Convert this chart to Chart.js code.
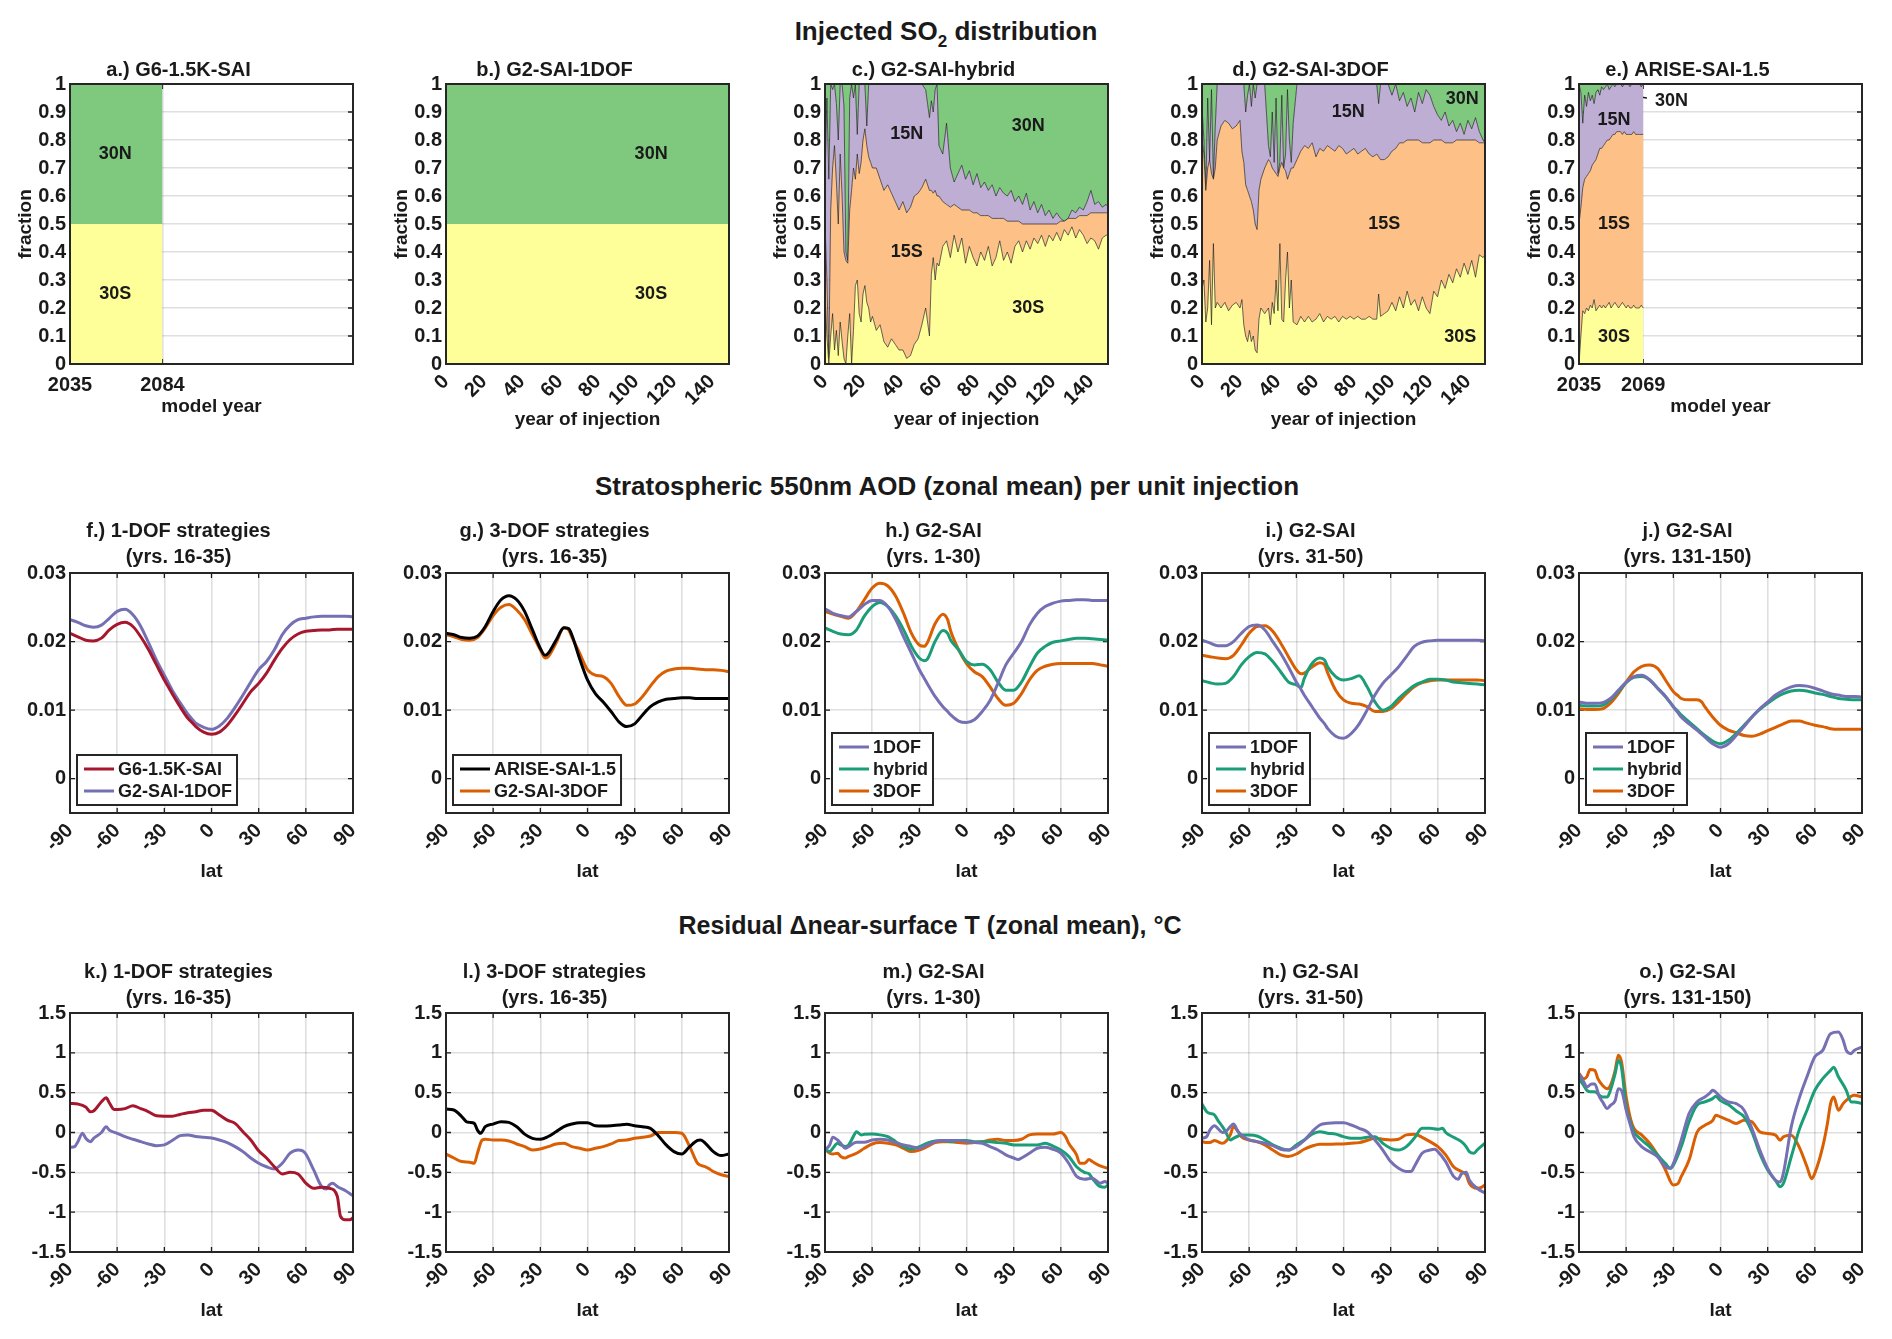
<!DOCTYPE html>
<html lang="en">
<head>
<meta charset="UTF-8">
<title>Injected SO2 distribution, AOD and temperature residuals</title>
<script src="https://cdn.jsdelivr.net/npm/chart.js"></script>
<style>
  body { margin: 0; background: #fff; width: 1892px; height: 1339px; position: relative; overflow: hidden;
         font-family: "Liberation Sans", Arial, Helvetica, sans-serif; color: #1a1a1a; }
  .hdr { position: absolute; font-weight: bold; font-size: 26px; transform: translate(-50%, -50%); white-space: nowrap; }
  .hdr sub { font-size: 17px; }
  .panel { position: absolute; }
</style>
</head>
<body>
<div class="hdr" style="left:946px; top:34px">Injected SO<sub>2</sub> distribution</div>
<div class="hdr" style="left:947px; top:486px">Stratospheric 550nm AOD (zonal mean) per unit injection</div>
<div class="hdr" style="left:930px; top:925px; font-size:25px">Residual &Delta;near-surface T (zonal mean), &deg;C</div>
<script>
// ---------- shared ticks ----------
const fracTicks = [0, 0.1, 0.2, 0.3, 0.4, 0.5, 0.6, 0.7, 0.8, 0.9, 1];
const fracTickLabels = ['0', '0.1', '0.2', '0.3', '0.4', '0.5', '0.6', '0.7', '0.8', '0.9', '1'];
const injTicks = [0, 20, 40, 60, 80, 100, 120, 140];
const latTicks = [-90, -60, -30, 0, 30, 60, 90];
const aodTicks = [0, 0.01, 0.02, 0.03];
const aodTickLabels = ['0', '0.01', '0.02', '0.03'];
const tTicks = [-1.5, -1, -0.5, 0, 0.5, 1, 1.5];
const tTickLabels = ['-1.5', '-1', '-0.5', '0', '0.5', '1', '1.5'];

// ---------- row 1: injected SO2 fraction, cumulative from the 30S layer up ----------
const g6Years = [2035, 2084];
const g6Cum30S = [0.5, 0.5];

const oneDofYears = [0, 149];
const oneDofCum30S = [0.5, 0.5];

const hybridYears = [0,1,2,3,4,5,6,7,8,9,10,11,12,13,14,15,16,17,18,19,20,21,22,23,24,25,
  27,29,31,33,35,37,39,41,43,45,47,49,51,53,55,56,57,58,59,
  60,62,64,66,68,70,72,74,76,78,80,82,84,86,88,90,92,94,96,98,100,102,104,106,108,110,
  112,114,116,118,120,122,124,126,128,130,132,134,136,138,140,142,144,146,148,149];
const hybridCum30S = [0.25,0.10,0.00,0.10,0.18,0.05,0.12,0.03,0.15,0.08,0.02,0.00,0.10,0.18,0.00,0.12,0.28,0.30,0.18,0.15,0.25,0.28,0.22,0.20,0.15,0.17,
  0.12,0.14,0.08,0.06,0.09,0.07,0.05,0.05,0.02,0.03,0.07,0.09,0.14,0.20,0.10,0.32,0.38,0.30,0.36,
  0.35,0.42,0.44,0.38,0.46,0.40,0.45,0.36,0.42,0.38,0.35,0.40,0.37,0.42,0.35,0.38,0.44,0.37,0.40,0.36,0.42,0.44,0.40,0.44,0.41,0.45,
  0.43,0.46,0.42,0.46,0.44,0.47,0.44,0.48,0.46,0.49,0.45,0.48,0.46,0.43,0.45,0.44,0.41,0.45,0.46,0.46];
const hybridCum15S = [0.50,0.30,0.02,0.55,0.70,0.78,0.65,0.50,0.75,0.60,0.40,0.37,0.36,0.55,0.62,0.70,0.66,0.75,0.68,0.72,0.80,0.84,0.78,0.74,0.72,0.70,
  0.70,0.66,0.62,0.64,0.61,0.58,0.55,0.58,0.54,0.56,0.60,0.61,0.63,0.66,0.62,0.62,0.61,0.62,0.60,
  0.60,0.58,0.57,0.56,0.57,0.56,0.55,0.55,0.55,0.54,0.54,0.53,0.53,0.53,0.52,0.52,0.52,0.52,0.51,0.51,0.51,0.51,0.50,0.50,0.50,0.50,
  0.50,0.50,0.50,0.50,0.50,0.50,0.51,0.51,0.52,0.52,0.52,0.53,0.53,0.53,0.54,0.54,0.54,0.54,0.54,0.54];
const hybridCum15N = [0.65,0.95,0.66,1.00,0.98,1.00,0.93,0.80,1.00,1.00,0.92,0.40,0.37,0.95,1.00,0.95,1.00,0.82,1.00,1.00,1.00,1.00,0.85,1.00,1.00,1.00,
  1.00,1.00,1.00,1.00,1.00,1.00,1.00,1.00,1.00,1.00,1.00,1.00,1.00,0.98,0.88,0.94,0.90,0.98,1.00,
  0.78,0.75,0.86,0.70,0.65,0.68,0.71,0.66,0.69,0.64,0.68,0.63,0.65,0.62,0.64,0.60,0.63,0.61,0.60,0.62,0.58,0.60,0.57,0.61,0.55,0.58,
  0.54,0.57,0.53,0.55,0.52,0.54,0.52,0.51,0.52,0.55,0.54,0.56,0.55,0.58,0.62,0.57,0.58,0.56,0.57,0.56];

const threeDofYears = [0,1,2,3,4,5,6,7,8,10,12,14,16,18,20,21,22,23,24,25,26,27,28,29,30,31,33,
  35,36,37,38,39,40,41,42,43,44,45,46,47,48,
  50,52,54,56,58,60,62,64,66,68,70,72,74,76,78,80,82,84,86,88,90,92,93,
  94,96,98,100,102,104,106,108,110,112,114,116,118,120,122,124,126,128,130,132,134,136,138,140,142,144,146,148,149];
const threeDofCum30S = [0.27,0.30,0.15,0.20,0.37,0.14,0.43,0.20,0.22,0.20,0.22,0.19,0.21,0.22,0.20,
  0.23,0.14,0.10,0.08,0.12,0.08,0.10,0.05,0.04,0.16,0.20,0.18,
  0.20,0.14,0.22,0.18,0.30,0.19,0.43,0.16,0.15,0.30,0.40,0.20,0.30,0.15,
  0.14,0.17,0.15,0.17,0.15,0.16,0.18,0.15,0.17,0.16,0.17,0.15,0.17,0.16,0.17,0.16,0.17,0.16,0.16,0.17,0.16,0.16,0.25,
  0.17,0.18,0.19,0.22,0.19,0.24,0.20,0.26,0.21,0.23,0.19,0.24,0.20,0.18,0.26,0.24,0.30,0.27,0.32,0.29,0.34,0.31,0.36,0.32,0.37,0.31,0.39,0.38,0.39];
const threeDofCum15S = [0.80,0.75,0.62,0.70,0.73,0.68,0.66,0.70,0.80,0.85,0.87,0.86,0.84,0.85,0.87,
  0.76,0.72,0.64,0.62,0.60,0.58,0.55,0.50,0.48,0.62,0.66,0.70,
  0.73,0.72,0.70,0.69,0.68,0.67,0.70,0.72,0.70,0.69,0.66,0.68,0.70,0.70,
  0.73,0.76,0.78,0.77,0.79,0.74,0.77,0.76,0.78,0.77,0.76,0.78,0.77,0.75,0.76,0.77,0.75,0.76,0.77,0.75,0.74,0.75,0.74,
  0.73,0.73,0.74,0.76,0.77,0.79,0.79,0.80,0.80,0.80,0.80,0.79,0.79,0.79,0.80,0.80,0.80,0.79,0.79,0.79,0.80,0.80,0.80,0.80,0.80,0.80,0.79,0.79,0.79];
const threeDofCum15N = [0.92,0.80,0.62,0.95,0.73,0.98,0.66,0.85,1.00,1.00,1.00,1.00,1.00,1.00,1.00,
  1.00,1.00,0.90,0.96,1.00,0.92,1.00,0.95,1.00,1.00,1.00,1.00,
  0.78,0.74,0.90,0.72,0.95,0.68,0.72,0.96,0.70,0.75,0.98,0.80,0.72,0.86,
  1.00,1.00,1.00,1.00,1.00,1.00,1.00,1.00,1.00,1.00,1.00,1.00,1.00,1.00,1.00,1.00,1.00,1.00,1.00,1.00,1.00,1.00,0.93,
  1.00,1.00,1.00,0.96,1.00,0.94,0.97,0.92,0.95,0.90,0.97,0.93,0.98,0.96,0.92,0.89,0.87,0.90,0.85,0.87,0.83,0.86,0.82,0.87,0.84,0.88,0.83,0.80,0.79];

const ariseYears = [2035,2036,2037,2038,2039,2040,2041,2042,2043,2044,2045,2046,2047,2048,2049,2050,2051,2052,
  2053,2054,2055,2056,2057,2058,2059,2060,2061,2062,2063,2064,2065,2066,2067,2068,2069];
const ariseCum30S = [0.00,0.10,0.19,0.18,0.20,0.19,0.21,0.20,0.23,0.19,0.20,0.21,0.20,0.21,0.20,0.21,0.22,0.20,
  0.21,0.22,0.21,0.20,0.21,0.22,0.21,0.20,0.21,0.20,0.20,0.21,0.20,0.20,0.20,0.21,0.20];
const ariseCum15S = [0.50,0.56,0.63,0.66,0.67,0.68,0.69,0.71,0.72,0.73,0.75,0.77,0.77,0.78,0.79,0.80,0.80,0.81,
  0.82,0.82,0.83,0.83,0.83,0.82,0.83,0.82,0.82,0.82,0.82,0.83,0.82,0.82,0.82,0.82,0.82];
const ariseCum15N = [1.00,0.97,0.86,0.96,0.92,0.97,0.94,0.96,0.93,0.97,0.98,0.96,0.99,0.98,0.99,1.00,0.98,0.99,
  1.00,0.99,1.00,1.00,1.00,0.99,1.00,1.00,1.00,0.99,1.00,1.00,1.00,1.00,1.00,0.99,1.00];
const ariseLeaderYears = [2040.5, 2071];
const ariseLeaderFrac = [0.98, 0.95];

// ---------- row 2: stratospheric AOD per unit injection ----------
const latAod = [-90,-85,-80,-75,-70,-65,-60,-55,-50,-45,-40,-35,-30,-27,-25,-20,-15,-12,-10,-5,0,
  5,10,15,20,25,30,35,40,45,50,55,60,65,70,75,80,85,90];
const aodF_G6 = [0.0212,0.0207,0.0202,0.0201,0.0205,0.0217,0.0225,0.0228,0.0222,0.0207,0.0188,0.0166,0.0144,0.0132,0.0124,0.0105,0.0088,0.0081,0.0076,0.0068,0.0065,
  0.0068,0.0078,0.0093,0.0110,0.0127,0.0139,0.0154,0.0173,0.0190,0.0203,0.0211,0.0215,0.0216,0.0217,0.0217,0.0218,0.0218,0.0218];
const aodF_1DOF = [0.0232,0.0228,0.0223,0.0221,0.0224,0.0234,0.0244,0.0247,0.0239,0.0222,0.0198,0.0173,0.0151,0.0138,0.0129,0.0111,0.0094,0.0086,0.0081,0.0075,0.0072,
  0.0077,0.0088,0.0104,0.0122,0.0141,0.0159,0.0171,0.0188,0.0210,0.0224,0.0232,0.0234,0.0236,0.0237,0.0237,0.0237,0.0237,0.0236];
const aodG_ARISE = [0.0212,0.0210,0.0206,0.0205,0.0208,0.0222,0.0244,0.0261,0.0267,0.0261,0.0244,0.0217,0.0190,0.0180,0.0183,0.0202,0.0220,0.0219,0.0210,0.0175,0.0144,
  0.0124,0.0112,0.0098,0.0083,0.0076,0.0080,0.0093,0.0105,0.0112,0.0116,0.0117,0.0118,0.0118,0.0117,0.0117,0.0117,0.0117,0.0117];
const aodG_3DOF = [0.0210,0.0207,0.0203,0.0202,0.0206,0.0220,0.0238,0.0250,0.0254,0.0246,0.0232,0.0210,0.0188,0.0176,0.0178,0.0198,0.0220,0.0217,0.0207,0.0183,0.0159,
  0.0151,0.0149,0.0139,0.0120,0.0107,0.0109,0.0120,0.0135,0.0149,0.0157,0.0160,0.0161,0.0161,0.0160,0.0159,0.0159,0.0158,0.0156];
const aodH_1DOF = [0.0248,0.0241,0.0238,0.0236,0.0244,0.0254,0.0260,0.0260,0.0251,0.0232,0.0207,0.0183,0.0159,0.0147,0.0139,0.0120,0.0105,0.0098,0.0093,0.0084,0.0082,
  0.0086,0.0098,0.0114,0.0139,0.0166,0.0183,0.0200,0.0224,0.0241,0.0251,0.0256,0.0259,0.0260,0.0261,0.0261,0.0260,0.0260,0.0260];
const aodH_hybrid = [0.0220,0.0215,0.0211,0.0210,0.0217,0.0237,0.0251,0.0257,0.0251,0.0237,0.0217,0.0193,0.0176,0.0172,0.0174,0.0200,0.0216,0.0212,0.0202,0.0188,0.0171,
  0.0166,0.0167,0.0159,0.0141,0.0129,0.0129,0.0141,0.0163,0.0183,0.0193,0.0199,0.0201,0.0203,0.0205,0.0205,0.0204,0.0203,0.0202];
const aodH_3DOF = [0.0244,0.0240,0.0237,0.0234,0.0244,0.0261,0.0278,0.0285,0.0281,0.0266,0.0241,0.0212,0.0195,0.0193,0.0198,0.0226,0.0240,0.0232,0.0215,0.0188,0.0168,
  0.0156,0.0149,0.0134,0.0117,0.0107,0.0110,0.0124,0.0144,0.0158,0.0164,0.0167,0.0168,0.0168,0.0168,0.0168,0.0168,0.0166,0.0164];
const aodI_1DOF = [0.0202,0.0198,0.0194,0.0194,0.0200,0.0212,0.0222,0.0224,0.0217,0.0200,0.0183,0.0163,0.0141,0.0130,0.0122,0.0105,0.0088,0.0080,0.0073,0.0062,0.0059,
  0.0066,0.0080,0.0100,0.0122,0.0139,0.0151,0.0163,0.0178,0.0193,0.0199,0.0201,0.0202,0.0202,0.0202,0.0202,0.0202,0.0202,0.0201];
const aodI_hybrid = [0.0143,0.0140,0.0138,0.0139,0.0149,0.0166,0.0178,0.0184,0.0182,0.0171,0.0156,0.0141,0.0137,0.0133,0.0146,0.0168,0.0176,0.0173,0.0163,0.0149,0.0144,
  0.0146,0.0150,0.0134,0.0112,0.0100,0.0105,0.0117,0.0127,0.0136,0.0141,0.0145,0.0145,0.0144,0.0141,0.0140,0.0139,0.0138,0.0137];
const aodI_3DOF = [0.0180,0.0178,0.0176,0.0175,0.0180,0.0195,0.0212,0.0222,0.0223,0.0215,0.0198,0.0178,0.0159,0.0153,0.0154,0.0163,0.0169,0.0166,0.0154,0.0129,0.0115,
  0.0110,0.0109,0.0105,0.0098,0.0098,0.0102,0.0112,0.0124,0.0134,0.0140,0.0143,0.0144,0.0144,0.0144,0.0144,0.0144,0.0144,0.0143];
const aodJ_1DOF = [0.0112,0.0110,0.0110,0.0111,0.0117,0.0129,0.0141,0.0149,0.0151,0.0144,0.0132,0.0120,0.0105,0.0096,0.0090,0.0080,0.0071,0.0065,0.0061,0.0051,0.0046,
  0.0051,0.0063,0.0076,0.0090,0.0102,0.0112,0.0122,0.0129,0.0134,0.0136,0.0135,0.0132,0.0128,0.0124,0.0122,0.0120,0.0120,0.0119];
const aodJ_hybrid = [0.0107,0.0106,0.0106,0.0107,0.0115,0.0127,0.0140,0.0148,0.0149,0.0144,0.0132,0.0120,0.0105,0.0098,0.0093,0.0083,0.0073,0.0067,0.0063,0.0055,0.0051,
  0.0056,0.0066,0.0078,0.0090,0.0101,0.0110,0.0118,0.0124,0.0128,0.0129,0.0128,0.0125,0.0123,0.0120,0.0117,0.0116,0.0115,0.0115];
const aodJ_3DOF = [0.0102,0.0101,0.0101,0.0102,0.0110,0.0124,0.0141,0.0156,0.0164,0.0166,0.0161,0.0144,0.0127,0.0121,0.0117,0.0115,0.0115,0.0112,0.0105,0.0090,0.0078,
  0.0071,0.0067,0.0063,0.0062,0.0065,0.0070,0.0075,0.0080,0.0084,0.0084,0.0081,0.0078,0.0076,0.0073,0.0072,0.0072,0.0072,0.0072];

// ---------- row 3: residual near-surface temperature, [lat, degC] ----------
const tK_G6 = [[-90,0.365],[-85,0.357],[-80,0.32],[-77,0.26],[-75,0.27],[-70,0.386],[-67,0.436],[-65,0.373],[-62,0.29],[-60,0.29],[-55,0.30],[-50,0.336],[-45,0.30],[-40,0.26],[-35,0.21],[-30,0.205],[-25,0.205],[-20,0.227],[-15,0.248],[-10,0.26],[-5,0.28],[0,0.28],[5,0.22],[10,0.156],[15,0.115],[20,0.01],[25,-0.094],[30,-0.23],[35,-0.32],[40,-0.43],[45,-0.52],[50,-0.50],[55,-0.52],[60,-0.636],[65,-0.70],[70,-0.686],[75,-0.70],[80,-0.80],[82,-1.05],[85,-1.095],[88,-1.095],[90,-1.07]];
const tK_1DOF = [[-90,-0.186],[-87,-0.177],[-85,-0.115],[-82,-0.01],[-80,-0.073],[-77,-0.115],[-75,-0.073],[-70,0.0],[-67,0.073],[-65,0.03],[-60,-0.01],[-55,-0.052],[-50,-0.085],[-45,-0.115],[-40,-0.144],[-35,-0.165],[-30,-0.156],[-25,-0.10],[-20,-0.04],[-15,-0.03],[-10,-0.05],[-5,-0.06],[0,-0.07],[5,-0.094],[10,-0.127],[15,-0.177],[20,-0.24],[25,-0.32],[30,-0.386],[35,-0.43],[40,-0.457],[45,-0.386],[50,-0.26],[55,-0.22],[58,-0.23],[60,-0.27],[65,-0.47],[70,-0.678],[73,-0.71],[75,-0.657],[77,-0.636],[80,-0.678],[85,-0.728],[90,-0.795]];
const tL_ARISE = [[-90,0.294],[-85,0.282],[-80,0.20],[-77,0.136],[-75,0.127],[-72,0.115],[-70,0.03],[-68,-0.01],[-65,0.073],[-60,0.106],[-55,0.136],[-50,0.127],[-45,0.073],[-40,-0.02],[-35,-0.073],[-30,-0.085],[-25,-0.05],[-20,0.01],[-15,0.073],[-10,0.106],[-5,0.123],[0,0.123],[5,0.085],[10,0.081],[15,0.085],[20,0.094],[25,0.102],[30,0.085],[35,0.073],[40,0.052],[45,-0.04],[50,-0.156],[55,-0.24],[60,-0.27],[65,-0.177],[70,-0.10],[72,-0.094],[75,-0.135],[80,-0.24],[85,-0.29],[90,-0.27]];
const tL_3DOF = [[-90,-0.27],[-85,-0.32],[-80,-0.365],[-75,-0.373],[-72,-0.386],[-70,-0.26],[-67,-0.094],[-65,-0.085],[-60,-0.094],[-55,-0.094],[-50,-0.106],[-45,-0.144],[-40,-0.177],[-35,-0.22],[-30,-0.206],[-25,-0.177],[-20,-0.144],[-15,-0.135],[-10,-0.177],[-5,-0.198],[0,-0.22],[5,-0.198],[10,-0.177],[15,-0.144],[20,-0.10],[25,-0.094],[30,-0.073],[35,-0.06],[40,-0.044],[45,0.0],[50,0.0],[55,0.0],[60,-0.01],[65,-0.177],[70,-0.386],[75,-0.43],[77,-0.45],[80,-0.49],[85,-0.53],[90,-0.553]];
const tM_1DOF = [[-90,-0.22],[-87,-0.156],[-85,-0.06],[-82,-0.094],[-80,-0.135],[-77,-0.198],[-75,-0.177],[-70,-0.123],[-65,-0.123],[-60,-0.094],[-55,-0.085],[-50,-0.094],[-45,-0.127],[-40,-0.156],[-35,-0.177],[-30,-0.198],[-25,-0.156],[-20,-0.115],[-15,-0.10],[-10,-0.10],[-5,-0.10],[0,-0.115],[5,-0.127],[10,-0.135],[15,-0.177],[20,-0.22],[25,-0.28],[30,-0.32],[33,-0.34],[35,-0.32],[40,-0.26],[45,-0.198],[50,-0.186],[55,-0.21],[60,-0.26],[65,-0.386],[70,-0.55],[75,-0.586],[80,-0.574],[85,-0.636],[88,-0.615],[90,-0.636]];
const tM_hybrid = [[-90,-0.21],[-87,-0.24],[-85,-0.198],[-82,-0.135],[-80,-0.156],[-77,-0.177],[-75,-0.156],[-72,-0.052],[-70,0.01],[-67,-0.03],[-65,-0.023],[-60,-0.02],[-55,-0.03],[-50,-0.052],[-45,-0.115],[-40,-0.177],[-35,-0.21],[-30,-0.177],[-25,-0.135],[-20,-0.106],[-15,-0.10],[-10,-0.115],[-5,-0.10],[0,-0.10],[5,-0.115],[10,-0.115],[15,-0.115],[20,-0.127],[25,-0.135],[30,-0.156],[35,-0.156],[40,-0.156],[45,-0.156],[50,-0.135],[55,-0.17],[60,-0.22],[65,-0.30],[70,-0.43],[75,-0.50],[78,-0.52],[80,-0.574],[85,-0.678],[88,-0.686],[90,-0.657]];
const tM_3DOF = [[-90,-0.21],[-87,-0.26],[-85,-0.27],[-82,-0.26],[-80,-0.30],[-77,-0.32],[-75,-0.30],[-70,-0.26],[-65,-0.198],[-60,-0.144],[-55,-0.127],[-50,-0.135],[-45,-0.156],[-40,-0.198],[-35,-0.24],[-30,-0.22],[-25,-0.177],[-20,-0.127],[-15,-0.115],[-10,-0.115],[-5,-0.127],[0,-0.135],[5,-0.127],[10,-0.115],[15,-0.094],[20,-0.085],[25,-0.10],[30,-0.10],[35,-0.085],[40,-0.03],[45,-0.02],[50,-0.02],[55,-0.02],[60,0.0],[63,-0.052],[65,-0.135],[70,-0.28],[72,-0.386],[75,-0.386],[78,-0.34],[80,-0.365],[85,-0.42],[90,-0.45]];
const tN_1DOF = [[-90,-0.073],[-87,-0.052],[-85,0.03],[-82,0.085],[-80,0.052],[-77,0.0],[-75,0.01],[-72,0.073],[-70,0.106],[-67,0.01],[-65,-0.03],[-60,-0.094],[-55,-0.115],[-50,-0.135],[-45,-0.165],[-40,-0.21],[-35,-0.22],[-30,-0.177],[-25,-0.10],[-20,0.01],[-15,0.094],[-10,0.115],[-5,0.123],[0,0.123],[5,0.094],[10,0.052],[15,0.01],[20,-0.094],[25,-0.22],[30,-0.365],[35,-0.45],[40,-0.49],[43,-0.49],[45,-0.43],[50,-0.26],[55,-0.22],[58,-0.21],[60,-0.24],[65,-0.365],[70,-0.55],[73,-0.586],[75,-0.52],[78,-0.50],[80,-0.595],[85,-0.70],[90,-0.76]];
const tN_hybrid = [[-90,0.357],[-87,0.26],[-85,0.24],[-82,0.22],[-80,0.156],[-77,0.073],[-75,0.01],[-72,-0.094],[-70,-0.073],[-67,-0.044],[-65,-0.03],[-60,-0.03],[-55,-0.044],[-50,-0.094],[-45,-0.156],[-40,-0.198],[-35,-0.22],[-30,-0.156],[-25,-0.094],[-20,-0.02],[-15,0.01],[-10,-0.01],[-5,-0.02],[0,-0.052],[5,-0.073],[10,-0.073],[15,-0.06],[20,-0.052],[25,-0.135],[30,-0.198],[35,-0.22],[40,-0.177],[45,-0.073],[50,0.052],[55,0.052],[60,0.04],[63,0.052],[65,0.0],[70,-0.06],[75,-0.115],[78,-0.177],[80,-0.24],[83,-0.26],[85,-0.22],[90,-0.135]];
const tN_3DOF = [[-90,-0.115],[-87,-0.127],[-85,-0.127],[-82,-0.10],[-80,-0.115],[-77,-0.135],[-75,-0.115],[-72,-0.03],[-70,0.073],[-67,0.01],[-65,-0.052],[-60,-0.094],[-55,-0.115],[-50,-0.156],[-45,-0.22],[-40,-0.28],[-35,-0.30],[-30,-0.27],[-25,-0.21],[-20,-0.17],[-15,-0.148],[-10,-0.148],[-5,-0.144],[0,-0.144],[5,-0.135],[10,-0.127],[15,-0.10],[20,-0.073],[25,-0.085],[30,-0.094],[35,-0.085],[40,-0.03],[45,-0.023],[50,-0.06],[55,-0.115],[60,-0.177],[65,-0.28],[70,-0.43],[75,-0.49],[78,-0.53],[80,-0.636],[85,-0.70],[88,-0.686],[90,-0.657]];
const tO_1DOF = [[-90,0.74],[-87,0.636],[-85,0.57],[-82,0.61],[-80,0.61],[-77,0.446],[-75,0.384],[-72,0.30],[-70,0.34],[-67,0.40],[-65,0.55],[-63,0.53],[-60,0.28],[-57,0.07],[-55,-0.054],[-50,-0.18],[-45,-0.242],[-40,-0.305],[-35,-0.43],[-32,-0.45],[-30,-0.39],[-25,-0.096],[-20,0.238],[-15,0.384],[-10,0.446],[-7,0.49],[-5,0.53],[0,0.446],[5,0.384],[10,0.363],[15,0.28],[20,0.05],[25,-0.22],[30,-0.45],[35,-0.60],[38,-0.62],[40,-0.51],[45,0.07],[50,0.425],[55,0.70],[60,0.95],[65,1.03],[70,1.24],[75,1.26],[78,1.16],[80,1.03],[83,0.99],[85,1.03],[90,1.07]];
const tO_hybrid = [[-90,0.676],[-87,0.59],[-85,0.53],[-82,0.51],[-80,0.51],[-77,0.467],[-75,0.446],[-72,0.446],[-70,0.53],[-67,0.74],[-65,0.905],[-63,0.82],[-60,0.32],[-57,0.113],[-55,0.008],[-50,-0.096],[-45,-0.18],[-40,-0.284],[-35,-0.39],[-32,-0.45],[-30,-0.41],[-25,-0.18],[-20,0.134],[-15,0.342],[-10,0.384],[-5,0.425],[-3,0.455],[0,0.40],[5,0.35],[10,0.27],[15,0.196],[20,0.008],[25,-0.263],[30,-0.47],[35,-0.60],[38,-0.68],[40,-0.64],[45,-0.305],[50,0.03],[55,0.28],[60,0.53],[65,0.676],[70,0.78],[72,0.82],[75,0.70],[80,0.53],[83,0.384],[85,0.384],[90,0.363]];
const tO_3DOF = [[-90,0.74],[-87,0.676],[-85,0.70],[-83,0.79],[-80,0.78],[-78,0.676],[-75,0.59],[-72,0.55],[-70,0.59],[-67,0.78],[-65,0.97],[-63,0.89],[-60,0.446],[-57,0.155],[-55,0.05],[-50,-0.033],[-45,-0.138],[-40,-0.284],[-35,-0.47],[-30,-0.66],[-27,-0.64],[-25,-0.555],[-20,-0.346],[-15,0.0],[-10,0.09],[-5,0.15],[-3,0.217],[0,0.196],[5,0.155],[10,0.113],[15,0.155],[20,0.134],[25,0.008],[30,-0.013],[35,-0.033],[38,-0.096],[40,-0.054],[45,-0.033],[50,-0.18],[55,-0.43],[58,-0.58],[60,-0.51],[65,-0.18],[68,0.113],[70,0.363],[72,0.446],[75,0.28],[78,0.363],[80,0.404],[85,0.467],[90,0.446]];

// ---------- look ----------
const FONT = '"Liberation Sans", Arial, Helvetica, sans-serif';
const INK = '#1a1a1a';
const GRID = 'rgba(38,38,38,0.15)';
const YEL = '#ffff99', ORA = '#fdc086', PUR = '#beaed4', GRN = '#7fc97f';
const C_PURPLE = '#7570b3', C_GREEN = '#1b9e77', C_ORANGE = '#d95f02', C_RED = '#a6172d', C_BLACK = '#000000';
const EDGE = 'rgba(30,30,30,0.85)';
const TICK_SIZE = 20, LABEL_SIZE = 19;

Chart.defaults.font.family = FONT;
Chart.defaults.color = INK;

// panel grid (page pixels of each plot box)
const COL_LEFT = [70, 446, 825, 1202, 1579];
const PLOT_W = 283;
const ROW_TOP = [84, 573, 1013];
const ROW_H = [280, 240, 239];
const Y_AXIS_W = 66, X_AXIS_H = 72, PAD_R = 14;
const TITLE_SIZE = 20, TITLE_LH = 1.3;
const TITLE_PAD_B = [1, 3, 2];

const xy = (xs, ys) => xs.map((x, i) => ({x: x, y: ys[i]}));
const pairs = arr => arr.map(p => ({x: p[0], y: p[1]}));

// inner tick marks sit under the data, the axes box on top
const innerTicks = {
  id: 'innerTicks',
  beforeDatasetsDraw(chart) {
    const {ctx, chartArea: a, scales: {x, y}} = chart;
    ctx.save();
    ctx.strokeStyle = INK;
    ctx.lineWidth = 1.3;
    ctx.beginPath();
    x.ticks.forEach(t => {
      const px = x.getPixelForValue(t.value);
      ctx.moveTo(px, a.bottom); ctx.lineTo(px, a.bottom - 5);
      ctx.moveTo(px, a.top); ctx.lineTo(px, a.top + 5);
    });
    y.ticks.forEach(t => {
      const py = y.getPixelForValue(t.value);
      ctx.moveTo(a.left, py); ctx.lineTo(a.left + 5, py);
      ctx.moveTo(a.right, py); ctx.lineTo(a.right - 5, py);
    });
    ctx.stroke();
    ctx.restore();
  }
};
const axesBox = {
  id: 'axesBox',
  afterDatasetsDraw(chart) {
    const {ctx, chartArea: a} = chart;
    ctx.save();
    ctx.strokeStyle = '#262626';
    ctx.lineWidth = 2;
    ctx.strokeRect(a.left, a.top, a.width, a.height);
    ctx.restore();
  }
};
// MATLAB-style boxed legend in the lower-left corner of the axes
const boxLegend = {
  id: 'boxLegend',
  afterDatasetsDraw(chart) {
    const items = chart.data.datasets.filter(d => d.label);
    if (!items.length) return;
    const {ctx, chartArea: a} = chart;
    ctx.save();
    ctx.font = 'bold 18px ' + FONT;
    const rowH = 22, lineLen = 30, gap = 4, padX = 7;
    const textW = Math.max(...items.map(d => ctx.measureText(d.label).width));
    const w = padX + lineLen + gap + textW + padX - 2;
    const h = items.length * rowH + 6;
    const x0 = a.left + 7, y0 = a.bottom - 8 - h;
    ctx.fillStyle = '#fff';
    ctx.fillRect(x0, y0, w, h);
    ctx.strokeStyle = '#262626';
    ctx.lineWidth = 2;
    ctx.strokeRect(x0, y0, w, h);
    items.forEach((d, i) => {
      const yy = y0 + 3 + rowH * (i + 0.5);
      ctx.strokeStyle = d.borderColor;
      ctx.lineWidth = 3;
      ctx.beginPath();
      ctx.moveTo(x0 + padX, yy);
      ctx.lineTo(x0 + padX + lineLen, yy);
      ctx.stroke();
      ctx.fillStyle = INK;
      ctx.textBaseline = 'middle';
      ctx.textAlign = 'left';
      ctx.fillText(d.label, x0 + padX + lineLen + gap, yy + 1);
    });
    ctx.restore();
  }
};
// region names placed in data coordinates
function regionText(items) {
  return {
    id: 'regionText',
    afterDatasetsDraw(chart) {
      const {ctx, scales: {x, y}} = chart;
      ctx.save();
      ctx.font = 'bold 18px ' + FONT;
      ctx.fillStyle = INK;
      ctx.textAlign = 'center';
      ctx.textBaseline = 'middle';
      items.forEach(it => ctx.fillText(it[0], x.getPixelForValue(it[1]), y.getPixelForValue(it[2])));
      ctx.restore();
    }
  };
}

function makePanel(col, row, titleLines) {
  const titleH = titleLines * TITLE_SIZE * TITLE_LH + TITLE_PAD_B[row];
  const div = document.createElement('div');
  div.className = 'panel';
  div.style.left = (COL_LEFT[col] - Y_AXIS_W) + 'px';
  div.style.top = (ROW_TOP[row] - titleH) + 'px';
  div.style.width = (Y_AXIS_W + PLOT_W + PAD_R) + 'px';
  div.style.height = (titleH + ROW_H[row] + X_AXIS_H) + 'px';
  const canvas = document.createElement('canvas');
  div.appendChild(canvas);
  document.body.appendChild(div);
  return canvas;
}

function axis(o) {
  // o: {min, max, ticks, labels, rot, title, titlePad, isY}
  const s = {
    type: 'linear',
    min: o.min,
    max: o.max,
    afterBuildTicks: sc => { sc.ticks = o.ticks.map(v => ({value: v})); },
    ticks: {
      autoSkip: false,
      padding: o.isY ? 4 : (o.rot ? 6 : 9),
      font: {family: FONT, size: TICK_SIZE, weight: 'bold'},
      color: INK,
      callback: (v, i) => o.labels[i]
    },
    grid: {color: GRID, lineWidth: 1.6, drawTicks: false},
    border: {display: false},
    title: {
      display: !!o.title,
      text: o.title || '',
      color: INK,
      font: {family: FONT, size: LABEL_SIZE, weight: 'bold'},
      padding: o.isY ? {top: 10, bottom: 0} : {top: 0, bottom: o.titlePad || 0}
    }
  };
  if (o.isY) {
    s.afterFit = sc => { sc.width = Y_AXIS_W; sc.paddingTop = 0; sc.paddingBottom = 0; };
  } else {
    s.ticks.minRotation = o.rot;
    s.ticks.maxRotation = o.rot;
    s.afterFit = sc => { sc.height = X_AXIS_H; sc.paddingLeft = 0; sc.paddingRight = 0; };
  }
  return s;
}

function baseOptions(title, xScale, yScale) {
  return {
    responsive: true,
    maintainAspectRatio: false,
    animation: false,
    layout: {padding: {left: 0, right: PAD_R, top: 0, bottom: 0}, autoPadding: false},
    plugins: {
      legend: {display: false},
      tooltip: {enabled: false},
      title: {
        display: true,
        text: title,
        color: INK,
        font: {family: FONT, size: TITLE_SIZE, weight: 'bold', lineHeight: TITLE_LH},
        padding: {top: 0, bottom: 0}
      }
    },
    scales: {x: xScale, y: yScale}
  };
}

// ---------- row 1 ----------
function layer(years, cum, color, fill, edge) {
  return {
    data: xy(years, cum), fill: fill, backgroundColor: color,
    borderColor: EDGE, borderWidth: edge ? 0.8 : 0, pointRadius: 0, tension: 0
  };
}
function fracChart(col, title, years, cums, xOpts, names, extra) {
  const cols = cums.length === 1 ? [YEL] : [YEL, ORA, PUR];
  const edge = cums.length > 1;
  const ds = cums.map((c, i) => layer(years, c, cols[i], i === 0 ? 'origin' : '-1', edge));
  ds.push(layer(years, cums[cums.length - 1], GRN, 'end', false));
  if (extra) ds.push(extra);
  const opts = baseOptions(title, axis(xOpts),
    axis({min: 0, max: 1, ticks: fracTicks, labels: fracTickLabels, title: 'fraction', isY: true}));
  opts.plugins.title.padding.bottom = TITLE_PAD_B[0];
  new Chart(makePanel(col, 0, 1), {
    type: 'line',
    data: {datasets: ds},
    options: opts,
    plugins: [innerTicks, axesBox, regionText(names)]
  });
}

fracChart(0, 'a.) G6-1.5K-SAI', g6Years, [g6Cum30S],
  {min: 2035, max: 2185, ticks: [2035, 2084], labels: ['2035', '2084'], rot: 0, title: 'model year', titlePad: 18},
  [['30N', 2059, 0.75], ['30S', 2059, 0.25]]);
fracChart(1, 'b.) G2-SAI-1DOF', oneDofYears, [oneDofCum30S],
  {min: 0, max: 149, ticks: injTicks, labels: injTicks.map(String), rot: 45, title: 'year of injection', titlePad: 5},
  [['30N', 108, 0.75], ['30S', 108, 0.25]]);
fracChart(2, 'c.) G2-SAI-hybrid', hybridYears, [hybridCum30S, hybridCum15S, hybridCum15N],
  {min: 0, max: 149, ticks: injTicks, labels: injTicks.map(String), rot: 45, title: 'year of injection', titlePad: 5},
  [['15N', 43, 0.82], ['30N', 107, 0.85], ['15S', 43, 0.40], ['30S', 107, 0.20]]);
fracChart(3, 'd.) G2-SAI-3DOF', threeDofYears, [threeDofCum30S, threeDofCum15S, threeDofCum15N],
  {min: 0, max: 149, ticks: injTicks, labels: injTicks.map(String), rot: 45, title: 'year of injection', titlePad: 5},
  [['15N', 77, 0.90], ['30N', 137, 0.945], ['15S', 96, 0.50], ['30S', 136, 0.097]]);
fracChart(4, 'e.) ARISE-SAI-1.5', ariseYears, [ariseCum30S, ariseCum15S, ariseCum15N],
  {min: 2035, max: 2185, ticks: [2035, 2069], labels: ['2035', '2069'], rot: 0, title: 'model year', titlePad: 18},
  [['15N', 2053.5, 0.87], ['15S', 2053.5, 0.50], ['30S', 2053.5, 0.097], ['30N', 2084, 0.94]],
  {data: xy(ariseLeaderYears, ariseLeaderFrac), borderColor: INK, borderWidth: 1.5, pointRadius: 0, fill: false});

// ---------- rows 2 and 3 ----------
function lineChart(col, row, title, series, yOpts) {
  const ds = series.map(s => ({
    label: s.label, data: s.data, borderColor: s.color, backgroundColor: s.color,
    borderWidth: 3, pointRadius: 0, fill: false, cubicInterpolationMode: 'monotone'
  }));
  const opts = baseOptions(title,
    axis({min: -90, max: 90, ticks: latTicks, labels: latTicks.map(String), rot: 45, title: 'lat', titlePad: 2}),
    axis(Object.assign({isY: true}, yOpts)));
  opts.plugins.title.padding.bottom = TITLE_PAD_B[row];
  const plugins = [innerTicks, axesBox];
  if (series.some(s => s.label)) plugins.push(boxLegend);
  new Chart(makePanel(col, row, 2), {type: 'line', data: {datasets: ds}, options: opts, plugins: plugins});
}

const aodY = {min: -0.005, max: 0.03, ticks: aodTicks, labels: aodTickLabels};
const tY = {min: -1.5, max: 1.5, ticks: tTicks, labels: tTickLabels};

lineChart(0, 1, ['f.) 1-DOF strategies', '(yrs. 16-35)'], [
  {label: 'G6-1.5K-SAI', color: C_RED, data: xy(latAod, aodF_G6)},
  {label: 'G2-SAI-1DOF', color: C_PURPLE, data: xy(latAod, aodF_1DOF)}], aodY);
lineChart(1, 1, ['g.) 3-DOF strategies', '(yrs. 16-35)'], [
  {label: 'ARISE-SAI-1.5', color: C_BLACK, data: xy(latAod, aodG_ARISE)},
  {label: 'G2-SAI-3DOF', color: C_ORANGE, data: xy(latAod, aodG_3DOF)}], aodY);
lineChart(2, 1, ['h.) G2-SAI', '(yrs. 1-30)'], [
  {label: '1DOF', color: C_PURPLE, data: xy(latAod, aodH_1DOF)},
  {label: 'hybrid', color: C_GREEN, data: xy(latAod, aodH_hybrid)},
  {label: '3DOF', color: C_ORANGE, data: xy(latAod, aodH_3DOF)}], aodY);
lineChart(3, 1, ['i.) G2-SAI', '(yrs. 31-50)'], [
  {label: '1DOF', color: C_PURPLE, data: xy(latAod, aodI_1DOF)},
  {label: 'hybrid', color: C_GREEN, data: xy(latAod, aodI_hybrid)},
  {label: '3DOF', color: C_ORANGE, data: xy(latAod, aodI_3DOF)}], aodY);
lineChart(4, 1, ['j.) G2-SAI', '(yrs. 131-150)'], [
  {label: '1DOF', color: C_PURPLE, data: xy(latAod, aodJ_1DOF)},
  {label: 'hybrid', color: C_GREEN, data: xy(latAod, aodJ_hybrid)},
  {label: '3DOF', color: C_ORANGE, data: xy(latAod, aodJ_3DOF)}], aodY);

lineChart(0, 2, ['k.) 1-DOF strategies', '(yrs. 16-35)'], [
  {color: C_RED, data: pairs(tK_G6)},
  {color: C_PURPLE, data: pairs(tK_1DOF)}], tY);
lineChart(1, 2, ['l.) 3-DOF strategies', '(yrs. 16-35)'], [
  {color: C_BLACK, data: pairs(tL_ARISE)},
  {color: C_ORANGE, data: pairs(tL_3DOF)}], tY);
lineChart(2, 2, ['m.) G2-SAI', '(yrs. 1-30)'], [
  {color: C_PURPLE, data: pairs(tM_1DOF)},
  {color: C_GREEN, data: pairs(tM_hybrid)},
  {color: C_ORANGE, data: pairs(tM_3DOF)}], tY);
lineChart(3, 2, ['n.) G2-SAI', '(yrs. 31-50)'], [
  {color: C_PURPLE, data: pairs(tN_1DOF)},
  {color: C_GREEN, data: pairs(tN_hybrid)},
  {color: C_ORANGE, data: pairs(tN_3DOF)}], tY);
lineChart(4, 2, ['o.) G2-SAI', '(yrs. 131-150)'], [
  {color: C_PURPLE, data: pairs(tO_1DOF)},
  {color: C_GREEN, data: pairs(tO_hybrid)},
  {color: C_ORANGE, data: pairs(tO_3DOF)}], tY);
</script>
</body>
</html>
